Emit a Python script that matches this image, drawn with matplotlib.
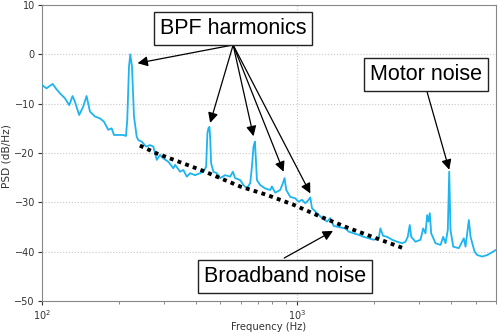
import matplotlib
matplotlib.use("Agg")
import matplotlib.pyplot as plt
import numpy as np

# PSD spectrum (Hz, dB/Hz)
freq_hz = [100.0, 104.3, 110.2, 114.2, 117.7, 123.1, 128.0, 131.9, 134.7, 140.0,
           145.2, 149.7, 154.3, 161.4, 168.9, 175.0, 182.0, 187.6, 191.6, 199.2,
           208.4, 213.5, 216.0, 219.4, 222.0, 225.4, 229.5, 235.2, 238.6, 246.0,
           255.7, 265.1, 273.2, 281.8, 290.3, 299.1, 312.9, 327.3, 332.4, 347.7,
           358.2, 369.4, 380.6, 398.1, 416.5, 429.1, 439.7, 444.9, 448.9, 453.0,
           455.9, 460.0, 469.7, 484.3, 498.9, 522.0, 546.1, 559.6, 571.4, 597.8,
           615.9, 635.1, 654.4, 664.5, 674.2, 682.7, 688.9, 695.0, 716.0, 749.1,
           783.7, 795.8, 819.8, 857.6, 879.0, 891.8, 905.7, 938.9, 982.2, 1011.8,
           1043.3, 1075.0, 1107.5, 1124.7, 1142.0, 1194.9, 1250.0, 1308.0, 1347.6, 1388.4,
           1474.8, 1542.8, 1589.6, 1663.0, 1739.8, 1819.7, 1903.8, 1991.7, 2083.6, 2116.0,
           2168.3, 2247.9, 2351.7, 2460.4, 2573.9, 2652.1, 2707.6, 2757.2, 2792.2, 2902.6,
           3037.0, 3111.6, 3177.2, 3226.0, 3264.1, 3302.7, 3344.8, 3477.5, 3638.1, 3727.8,
           3806.0, 3885.7, 3935.2, 3981.1, 4079.5, 4290.7, 4489.6, 4558.4, 4696.9, 4769.0,
           4944.5, 5066.7, 5300.5, 5545.0, 5713.6, 5977.5]
psd_db = [-6.2, -6.9, -6.0, -7.1, -7.9, -8.9, -10.3, -8.45, -9.6, -12.3,
          -10.6, -8.45, -11.6, -12.6, -13.0, -13.65, -15.3, -15.0, -16.35, -16.35,
          -16.35, -16.55, -13.3, -2.5, 0.0, -2.5, -12.6, -16.7, -17.4, -17.7,
          -18.7, -18.4, -18.7, -21.4, -20.4, -21.1, -21.8, -23.1, -22.4, -23.8,
          -23.45, -24.8, -24.1, -24.5, -24.1, -23.8, -22.8, -16.0, -15.0, -14.7,
          -16.7, -22.1, -23.8, -24.1, -25.1, -24.5, -24.8, -23.8, -25.1, -25.5,
          -26.5, -27.2, -26.1, -22.8, -18.7, -17.7, -21.4, -25.5, -26.5, -27.2,
          -27.5, -26.8, -28.05, -27.5, -26.1, -25.1, -27.5, -28.9, -29.2, -29.9,
          -29.5, -30.2, -29.5, -29.0, -31.2, -32.2, -33.2, -33.9, -33.2, -34.8,
          -35.1, -35.3, -35.95, -36.3, -36.6, -37.0, -37.3, -37.6, -37.3, -35.3,
          -36.8, -37.0, -37.6, -38.0, -38.3, -38.0, -37.0, -34.6, -37.0, -38.0,
          -37.6, -35.3, -36.3, -32.6, -33.9, -32.2, -36.3, -38.3, -38.65, -37.0,
          -38.3, -35.6, -23.8, -35.6, -39.0, -39.3, -37.3, -39.0, -33.6, -37.0,
          -40.0, -40.7, -41.0, -40.7, -40.3, -39.7]

# broadband trend (dotted)
trend_hz = [242, 282, 337, 429, 598, 760, 967, 1231, 1567, 1992, 2600]
trend_db = [-18.5, -20.1, -21.6, -23.65, -26.8, -28.5, -30.5, -32.9, -35.1, -37.1, -39.3]

# annotation boxes: label, centre (Hz, dB)
box_labels = ["BPF harmonics", "Motor noise", "Broadband noise"]
box_pos = [(561, 5.2), (3192, -4.0), (893, -45.0)]

# arrows: start (Hz, dB) -> tip (Hz, dB)
arrow_start = [(561, 1.9)] * 5 + [(3206, -7.2), (889, -41.3)]
arrow_tip = [(237, -1.8), (456, -13.9), (674, -16.6), (884, -23.8), (1125, -28.2),
             (3935, -23.4), (1380, -35.8)]

fig = plt.figure(figsize=(4.98, 3.34), dpi=100)
ax = fig.add_axes([0.084, 0.099, 0.912, 0.886])

ax.semilogx(freq_hz, psd_db, color="#1cb5f0", lw=1.3, zorder=3)
ax.plot(trend_hz, trend_db, color="black", lw=2.8, linestyle=(0, (1, 1.1)),
        dash_capstyle="butt", zorder=4)

ax.set_xlim(100, 6000)
ax.set_ylim(-50, 10)
ax.set_yticks([-50, -40, -30, -20, -10, 0, 10])
ax.grid(True, which="major", linestyle=":", color="#c8c8c8", lw=0.8)
ax.tick_params(labelsize=7, colors="#333333", length=3, width=0.8, pad=2)
ax.tick_params(which="minor", colors="#777777", length=2)
for sp in ax.spines.values():
    sp.set_color("#888888")
ax.set_xlabel("Frequency (Hz)", fontsize=7.2, color="#333333", va="top")
ax.set_ylabel("PSD (dB/Hz)", fontsize=7.6, color="#333333")
ax.xaxis.set_label_coords(0.5, -0.071)
ax.yaxis.set_label_coords(-0.066, 0.49)

for lab, (x, y) in zip(box_labels, box_pos):
    ax.text(x, y, lab, ha="center", va="center", fontsize=15.5,
            family="Liberation Sans", zorder=6,
            bbox=dict(boxstyle="square,pad=0.28", fc="white", ec="#222222", lw=1))

for (x0, y0), (x1, y1) in zip(arrow_start, arrow_tip):
    ax.annotate("", xy=(x1, y1), xytext=(x0, y0), zorder=5,
                arrowprops=dict(arrowstyle="-|>", color="black", lw=0.9,
                                mutation_scale=15, shrinkA=0, shrinkB=0))

fig.savefig("out.png", dpi=100)
